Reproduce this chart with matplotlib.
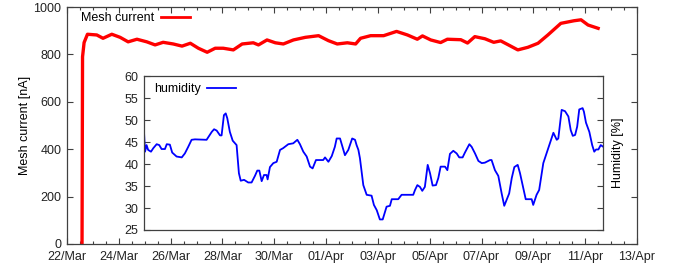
import numpy as np
import matplotlib
matplotlib.use("Agg")
import matplotlib.pyplot as plt
import matplotlib.dates as mdates

plt.rcParams['font.family'] = ['Liberation Sans', 'DejaVu Sans']
plt.rcParams['font.size'] = 9

# ---------------- data ----------------
start_date = np.datetime64('2014-03-22T00:00')

# Mesh current: days since 22/Mar 00:00, current in nA
current_days = [0.58, 0.59, 0.60, 0.66, 0.79, 1.15, 1.39, 1.73, 2.05, 2.36, 2.70, 3.08,
                3.40, 3.71, 4.10, 4.44, 4.76, 5.07, 5.41, 5.72, 6.03, 6.42, 6.76, 7.19,
                7.39, 7.72, 8.04, 8.35, 8.74, 9.20, 9.71, 10.09, 10.43, 10.82, 11.14,
                11.33, 11.72, 12.22, 12.72, 13.14, 13.52, 13.72, 14.04, 14.42, 14.68,
                15.20, 15.46, 15.74, 16.13, 16.47, 16.74, 17.02, 17.40, 17.79, 18.18,
                18.56, 19.06, 19.57, 19.84, 20.11, 20.50]
current_values = [0, 400, 790, 850, 885, 882, 868, 885, 872, 853, 864, 853,
                  840, 851, 844, 835, 847, 826, 809, 826, 826, 819, 844, 849,
                  840, 861, 849, 844, 861, 872, 879, 858, 844, 849, 844,
                  868, 879, 879, 897, 882, 864, 878, 861, 850, 864,
                  862, 848, 875, 866, 851, 857, 841, 819, 830, 847,
                  882, 931, 942, 946, 924, 910]

# Humidity: days since 22/Mar 00:00, relative humidity in %
humidity_days = [2.98, 3.02, 3.08, 3.14, 3.25, 3.34, 3.47, 3.57, 3.66, 3.79, 3.86, 3.98,
                 4.07, 4.24, 4.44, 4.56, 4.69, 4.82, 4.95, 5.40, 5.60, 5.69, 5.79, 5.92,
                 5.98, 6.07, 6.14, 6.20, 6.30, 6.41, 6.56, 6.65, 6.72, 6.85, 7.01, 7.14,
                 7.27, 7.36, 7.44, 7.53, 7.62, 7.72, 7.76, 7.85, 7.98, 8.11, 8.24, 8.36,
                 8.56, 8.75, 8.91, 9.01, 9.14, 9.27, 9.40, 9.50, 9.63, 9.91, 9.98, 10.11,
                 10.24, 10.36, 10.43, 10.56, 10.75, 10.88, 11.03, 11.14, 11.20, 11.27,
                 11.33, 11.46, 11.59, 11.78, 11.87, 11.98, 12.10, 12.21, 12.36, 12.49,
                 12.56, 12.81, 12.94, 13.39, 13.46, 13.55, 13.65, 13.74, 13.84, 13.95,
                 14.04, 14.14, 14.27, 14.36, 14.45, 14.62, 14.71, 14.81, 14.94, 15.07,
                 15.17, 15.30, 15.39, 15.56, 15.65, 15.78, 15.91, 16.04, 16.16, 16.36,
                 16.42, 16.55, 16.68, 16.81, 16.91, 17.00, 17.10, 17.20, 17.30, 17.43,
                 17.52, 17.62, 17.74, 17.97, 18.03, 18.16, 18.26, 18.42, 18.61, 18.81,
                 18.94, 19.00, 19.13, 19.26, 19.39, 19.48, 19.56, 19.65, 19.73, 19.81,
                 19.94, 19.99, 20.07, 20.20, 20.31, 20.39, 20.46, 20.55, 20.64, 20.74]
humidity_values = [47.3, 42.8, 44.3, 43.2, 42.8, 43.6, 44.5, 44.3, 43.4, 43.4, 44.5, 44.4,
                   42.6, 41.7, 41.5, 42.4, 43.9, 45.5, 45.6, 45.5, 47.3, 47.9, 47.6, 46.5,
                   46.5, 51.1, 51.5, 50.4, 47.3, 45.3, 44.3, 37.9, 36.2, 36.4, 35.8, 35.8,
                   37.3, 38.5, 38.5, 36.1, 37.5, 37.5, 36.5, 39.3, 40.2, 40.5, 43.2, 43.6,
                   44.5, 44.7, 45.5, 44.5, 42.8, 41.7, 39.4, 39.0, 40.9, 40.9, 41.5, 40.5,
                   41.8, 43.9, 45.8, 45.8, 42.0, 43.2, 45.8, 45.5, 44.3, 43.2,
                   41.3, 35.2, 33.0, 32.8, 30.7, 29.5, 27.4, 27.4, 30.3, 30.5,
                   32.0, 32.0, 33.0, 33.0, 34.1, 35.2, 34.8, 33.9, 34.8, 39.8,
                   37.9, 35.1, 35.2, 36.8, 39.4, 39.4, 38.6, 42.3, 43.0, 42.4,
                   41.5, 41.5, 42.6, 44.5, 43.9, 42.4, 40.7, 40.2, 40.3, 40.9,
                   40.9, 38.6, 37.3, 33.3, 30.5, 31.8, 33.3, 36.8, 39.3, 39.8,
                   37.9, 35.2, 32.0, 32.0, 30.7, 33.0, 34.1, 40.2, 43.6, 47.1,
                   45.5, 45.8, 52.3, 52.0, 50.8, 47.7, 46.4, 46.6, 48.5, 52.4,
                   52.7, 51.9, 49.4, 47.3, 44.3, 42.8, 43.3, 43.3, 44.3, 43.9]

x_major_days = list(range(0, 23, 2))
x_limits_days = [0, 22]
current_ticks = [0, 200, 400, 600, 800, 1000]
humidity_ticks = [25, 30, 35, 40, 45, 50, 55, 60]


def to_dates(days):
    secs = (np.asarray(days, dtype=float) * 86400).round().astype('timedelta64[s]')
    return start_date + secs


cur_t = to_dates(current_days)
hum_t = to_dates(humidity_days)

frame_col = '#404040'

fig = plt.figure(figsize=(6.81, 2.69), dpi=100)

# ---------------- main axes ----------------
ax = fig.add_axes([67 / 681, 1 - 244 / 269, 570 / 681, 237 / 269])
ax.plot(cur_t, current_values, color='#ff0000', lw=2.4, solid_joinstyle='round',
        label='Mesh current')
ax.set_xlim(to_dates(x_limits_days))
ax.set_ylim(0, 1000)
ax.set_yticks(current_ticks)
ax.set_xticks(to_dates(x_major_days))
ax.set_xticks(to_dates(np.arange(0, 22.01, 0.5)), minor=True)
ax.xaxis.set_major_formatter(mdates.DateFormatter('%d/%b'))
ax.tick_params(which='both', direction='in', top=True, right=True, color=frame_col,
               labelcolor='#222222')
ax.tick_params(which='major', length=4, width=0.8)
ax.tick_params(which='minor', length=2, width=0.8)
ax.tick_params(axis='x', which='major', pad=5)
ax.tick_params(axis='y', which='major', pad=4)
for s in ax.spines.values():
    s.set_color(frame_col)
    s.set_linewidth(0.9)
ax.set_ylabel('Mesh current [nA]', labelpad=2)
leg = ax.legend(loc='upper left', bbox_to_anchor=(0.025, 0.978), frameon=False,
                markerfirst=False, handlelength=2.35, handletextpad=0.5,
                borderaxespad=0, borderpad=0)
for ln in leg.get_lines():
    ln.set_linewidth(2.0)

# ---------------- inset axes ----------------
ax2 = fig.add_axes([144 / 681, 1 - 230 / 269, 459.3 / 681, 154 / 269])
ax2.patch.set_facecolor('white')
ax2.plot(hum_t, humidity_values, color='#0000ff', lw=1.3, label='humidity')
ax2.set_xlim(hum_t[0], hum_t[-1])
ax2.set_ylim(25, 60)
ax2.set_yticks(humidity_ticks)
ax2.set_xticks([])
ax2.tick_params(axis='y', which='major', direction='in', right=True, length=4,
                width=0.8, color=frame_col, labelcolor='#222222', pad=4)
for s in ax2.spines.values():
    s.set_color(frame_col)
    s.set_linewidth(0.9)
ax2.yaxis.set_label_position('right')
ax2.set_ylabel('Humidity [%]', labelpad=6)
ax2.legend(loc='upper left', bbox_to_anchor=(0.022, 0.955), frameon=False,
           markerfirst=False, handlelength=2.35, handletextpad=0.5,
           borderaxespad=0, borderpad=0)

fig.savefig('out.png', dpi=100)
